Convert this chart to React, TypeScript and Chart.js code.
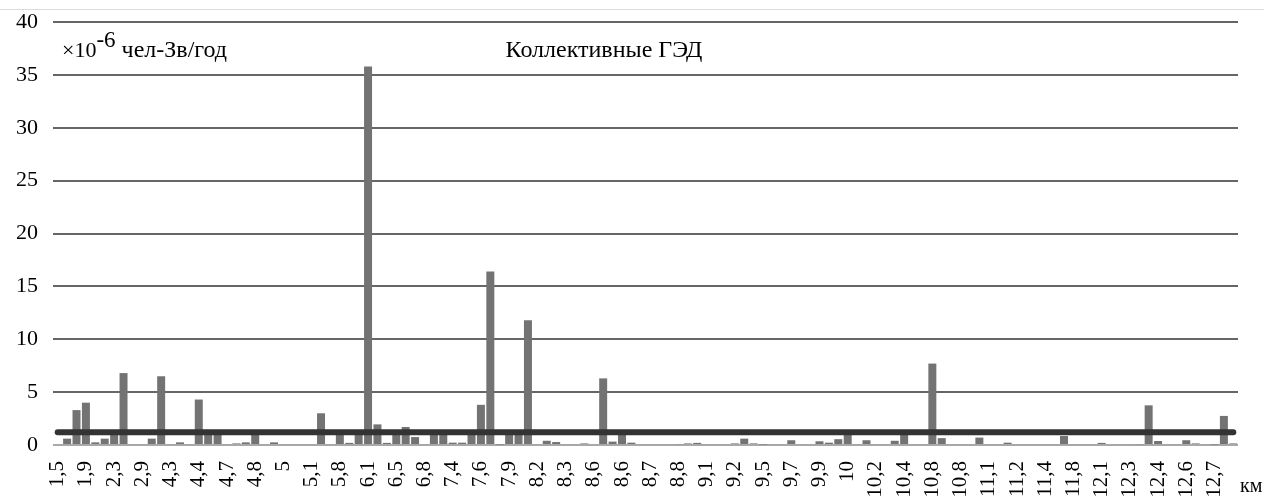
import React, { useEffect, useRef } from 'react';
import { Chart, registerables } from 'chart.js';

Chart.register(...registerables);

// Shown x tick labels (every third category carries a label)
const tickLabels = [
  '1,5', '1,9', '2,3', '2,9', '4,3', '4,4', '4,7', '4,8', '5', '5,1',
  '5,8', '6,1', '6,5', '6,8', '7,4', '7,6', '7,9', '8,2', '8,3', '8,6',
  '8,6', '8,7', '8,8', '9,1', '9,2', '9,5', '9,7', '9,9', '10', '10,2',
  '10,4', '10,8', '10,8', '11,1', '11,2', '11,4', '11,8', '12,1', '12,3', '12,4',
  '12,6', '12,7',
];

// Collective dose per category (×10^-6 person-Sv/year)
const doseValues = [
  0, 0.6, 3.3, 4.0, 0.25, 0.6, 1.1, 6.8, 0, 0,
  0.6, 6.5, 0, 0.25, 0, 4.3, 1.1, 1.1, 0, 0.15,
  0.25, 1.1, 0, 0.25, 0, 0, 0, 0, 3.0, 0,
  1.1, 0.2, 1.1, 35.8, 1.95, 0.2, 1.1, 1.7, 0.75, 0,
  1.1, 1.1, 0.22, 0.22, 1.1, 3.8, 16.4, 0.05, 1.1, 1.1,
  11.8, 0, 0.4, 0.28, 0, 0, 0.15, 0, 6.3, 0.32,
  1.1, 0.22, 0, 0, 0, 0, 0.08, 0.15, 0.2, 0,
  0, 0, 0.15, 0.6, 0.15, 0.05, 0, 0, 0.45, 0,
  0, 0.35, 0.22, 0.55, 1.1, 0, 0.45, 0, 0, 0.4,
  1.1, 0, 0, 7.7, 0.65, 0, 0, 0, 0.7, 0,
  0, 0.22, 0, 0, 0, 0, 0, 0.85, 0, 0,
  0, 0.2, 0, 0, 0, 0.08, 3.75, 0.38, 0, 0,
  0.45, 0.15, 0, 0.05, 2.75, 0.15,
];

// Reference level drawn as the thick horizontal line
const referenceLevel = 1.2;

const yTicks = [0, 5, 10, 15, 20, 25, 30, 35, 40];

const categories: string[] = tickLabels.flatMap((l) => [l, '', '']);
const referenceSeries = categories.map(() => referenceLevel);

const SERIF = 'Liberation Serif';

export default function App() {
  const canvasRef = useRef<HTMLCanvasElement | null>(null);

  useEffect(() => {
    if (!canvasRef.current) return;
    const chart = new Chart(canvasRef.current, {
      type: 'bar',
      data: {
        labels: categories,
        datasets: [
          {
            type: 'line',
            data: referenceSeries,
            borderColor: '#333333',
            borderWidth: 6,
            borderCapStyle: 'round',
            pointRadius: 0,
            order: 0,
          } as any,
          {
            type: 'bar',
            data: doseValues,
            backgroundColor: '#737373',
            categoryPercentage: 1,
            barPercentage: 0.85,
            order: 1,
          },
        ],
      },
      options: {
        animation: false,
        responsive: false,
        maintainAspectRatio: false,
        layout: { padding: { top: 22, right: 26, left: 0, bottom: 0 } },
        plugins: { legend: { display: false }, tooltip: { enabled: false }, title: { display: false } },
        scales: {
          x: {
            grid: { display: false, drawTicks: false },
            border: { display: false },
            ticks: {
              autoSkip: false,
              maxRotation: 90,
              minRotation: 90,
              padding: 16,
              color: '#000',
              font: { family: SERIF, size: 21 },
            },
            afterFit: (s: any) => {
              s.height = 53;
              s.paddingLeft = 0;
              s.paddingRight = 0;
            },
          },
          y: {
            min: 0,
            max: 40,
            afterBuildTicks: (s: any) => {
              s.ticks = yTicks.map((v) => ({ value: v }));
            },
            grid: {
              drawTicks: false,
              lineWidth: 2,
              color: (ctx: any) => (ctx.tick && ctx.tick.value === 0 ? '#a8a8a8' : '#666666'),
            },
            border: { display: false },
            ticks: {
              padding: 15,
              color: '#000',
              font: { family: SERIF, size: 22 },
            },
            afterFit: (s: any) => {
              s.width = 53;
              s.paddingTop = 0;
              s.paddingBottom = 0;
            },
          },
        },
      },
    });
    return () => chart.destroy();
  }, []);

  return (
    <div style={{ position: 'fixed', left: 0, top: 0, width: 1264, height: 498, background: '#fff', overflow: 'hidden' }}>
      <div style={{ position: 'absolute', left: 0, top: 9, width: 1264, height: 1, background: '#dcdcdc' }} />
      <canvas ref={canvasRef} width={1264} height={498} style={{ position: 'absolute', left: 0, top: 0 }} />
      <div
        style={{
          position: 'absolute',
          left: 604,
          top: 36,
          transform: 'translateX(-50%)',
          fontFamily: SERIF,
          fontSize: 24,
          color: '#000',
          whiteSpace: 'nowrap',
        }}
      >
        Коллективные ГЭД
      </div>
      <div
        style={{
          position: 'absolute',
          left: 62,
          top: 35,
          fontFamily: SERIF,
          fontSize: 22,
          color: '#000',
          whiteSpace: 'nowrap',
          lineHeight: '28px',
        }}
      >
        ×10<sup style={{ fontSize: 23, lineHeight: 0, verticalAlign: 10 }}>-6</sup>
        <span style={{ fontSize: 24 }}> чел-Зв/год</span>
      </div>
      <div
        style={{
          position: 'absolute',
          left: 1240,
          top: 474,
          fontFamily: SERIF,
          fontSize: 20,
          color: '#000',
          whiteSpace: 'nowrap',
        }}
      >
        км
      </div>
    </div>
  );
}
